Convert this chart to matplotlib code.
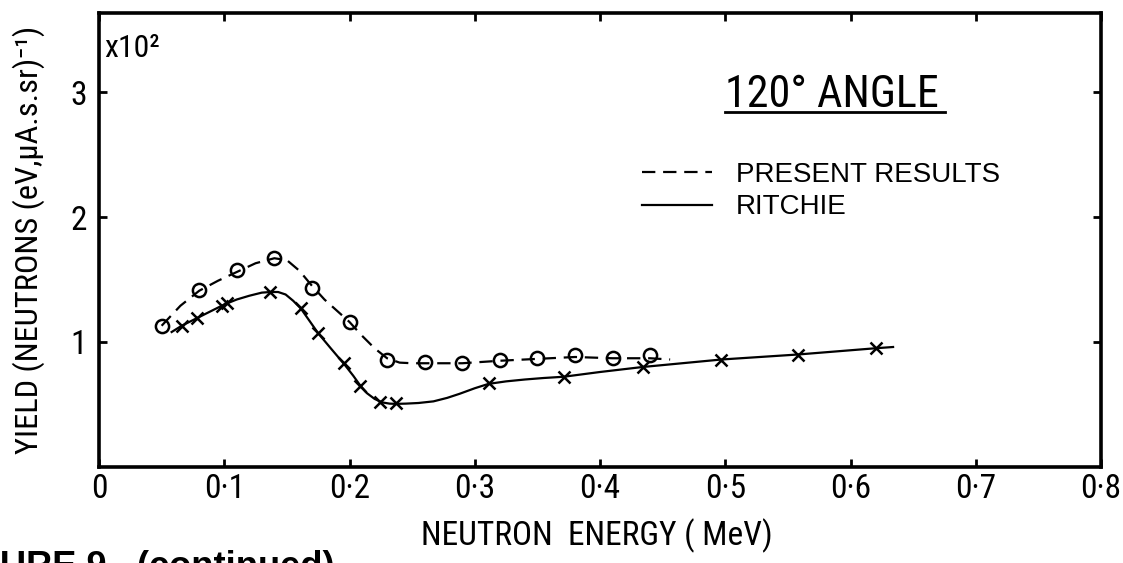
import matplotlib
matplotlib.use("Agg")
import matplotlib.pyplot as plt
from matplotlib.lines import Line2D
from matplotlib import font_manager as fm
from matplotlib.font_manager import FontProperties
from matplotlib.textpath import TextPath

# ---------------- data ----------------
energy_present = [0.05, 0.08, 0.11, 0.14, 0.17, 0.20, 0.23, 0.26, 0.29, 0.32, 0.35, 0.38, 0.41, 0.44]
yield_present = [1.13, 1.42, 1.58, 1.67, 1.43, 1.16, 0.86, 0.84, 0.83, 0.86, 0.87, 0.90, 0.87, 0.90]

# hand-drawn dashed curve through the present results
curve_present_x = [0.05, 0.065, 0.08, 0.095, 0.11, 0.125, 0.14, 0.15, 0.16, 0.17, 0.18, 0.19,
                   0.20, 0.21, 0.22, 0.23, 0.24, 0.25, 0.26, 0.29, 0.32, 0.35, 0.38, 0.41,
                   0.44, 0.456]
curve_present_y = [1.13, 1.29, 1.41, 1.49, 1.56, 1.63, 1.67, 1.655, 1.57, 1.45, 1.34, 1.25,
                   1.16, 1.05, 0.95, 0.87, 0.835, 0.83, 0.83, 0.83, 0.85, 0.865, 0.88, 0.87,
                   0.87, 0.86]

energy_ritchie = [0.066, 0.078, 0.098, 0.102, 0.1365, 0.161, 0.175, 0.196, 0.208, 0.224, 0.237,
                  0.311, 0.371, 0.434, 0.497, 0.558, 0.620]
yield_ritchie = [1.13, 1.19, 1.29, 1.31, 1.40, 1.27, 1.07, 0.83, 0.65, 0.52, 0.51,
                 0.67, 0.72, 0.80, 0.86, 0.90, 0.95]

# solid Ritchie curve
curve_ritchie_x = [0.058, 0.066, 0.078, 0.090, 0.100, 0.110, 0.120, 0.130, 0.137, 0.143, 0.149,
                   0.155, 0.161, 0.168, 0.175, 0.185, 0.196, 0.203, 0.208, 0.214, 0.220, 0.226,
                   0.232, 0.237, 0.245, 0.255, 0.267, 0.278, 0.288, 0.300, 0.311, 0.325, 0.340,
                   0.355, 0.371, 0.40, 0.434, 0.497, 0.558, 0.62, 0.634]
curve_ritchie_y = [1.08, 1.13, 1.19, 1.25, 1.30, 1.34, 1.37, 1.395, 1.40, 1.40, 1.38,
                   1.33, 1.27, 1.17, 1.07, 0.95, 0.82, 0.73, 0.66, 0.59, 0.545, 0.517,
                   0.507, 0.505, 0.507, 0.512, 0.525, 0.553, 0.586, 0.63, 0.665, 0.685, 0.70,
                   0.712, 0.722, 0.76, 0.80, 0.86, 0.90, 0.95, 0.96]

x_ticks = [0, 0.1, 0.2, 0.3, 0.4, 0.5, 0.6, 0.7, 0.8]
x_ticklabels = ["0", "0\u00b71", "0\u00b72", "0\u00b73", "0\u00b74", "0\u00b75", "0\u00b76", "0\u00b77", "0\u00b78"]
y_ticks = [1, 2, 3]
y_ticklabels = ["1", "2", "3"]

legend_labels = ["PRESENT RESULTS", "RITCHIE"]
title_text = "120\u00b0 ANGLE"
xlabel_text = "NEUTRON  ENERGY ( MeV)"
ylabel_text = "YIELD (NEUTRONS (eV,\u03bcA.s.sr)\u207b\u00b9)"
scale_text = "x10\u00b2"
caption_text = "URE 9.  (continued)"

# ---------------- fonts ----------------
entries = fm.fontManager.ttflist
names = {e.name for e in entries}
cond_kw = None
for cand in ["Liberation Sans Narrow", "Roboto Condensed", "Open Sans Condensed",
             "DejaVu Sans Condensed", "Noto Sans Condensed", "Arial Narrow"]:
    if cand in names:
        cond_kw = dict(family=[cand, "DejaVu Sans"])
        break
if cond_kw is None:
    for fam in ["Noto Sans", "DejaVu Sans", "Open Sans", "Roboto"]:
        if any(e.name == fam and e.stretch in ("condensed", "semi-condensed", 300, 400) for e in entries):
            cond_kw = dict(family=[fam, "DejaVu Sans"], stretch="condensed")
            break
if cond_kw is None:
    cond_kw = dict(family=["Liberation Sans", "DejaVu Sans"])

REG = ["Liberation Sans", "DejaVu Sans"]
plt.rcParams["font.family"] = cond_kw["family"]


def fp_cond(size=10, weight="normal"):
    return FontProperties(size=size, weight=weight, **cond_kw)


def ink(s, fp):
    e = TextPath((0, 0), s, size=100, prop=fp).get_extents()
    return e.width, e.height


def fit_size(s, fp, target_w_px, target_cap_px, cap_char="H", wmax=None):
    w100, _ = ink(s, fp)
    _, c100 = ink(cap_char, fp)
    sw = 100 * target_w_px * 0.72 / w100
    sh = 100 * target_cap_px * 0.72 / c100
    size = (sw * sh) ** 0.5
    if wmax is not None:
        size = min(size, sw * wmax)
    return size


W, H = 1123, 563
fig = plt.figure(figsize=(W / 100, H / 100), dpi=100)


def fx(px):
    return px / W


def fy(py):
    return 1 - py / H


left, right, top, bottom = 99, 1101, 13, 467
ax = fig.add_axes([fx(left), fy(bottom), fx(right) - fx(left), fy(top) - fy(bottom)])
ax.set_xlim(0, 0.8)
ax.set_ylim(0, (bottom - top) / 125.0)

lw_curve = 1.6
dashed_line, = ax.plot(curve_present_x, curve_present_y, color="black", lw=lw_curve,
                       linestyle=(0, (6, 3.5)))
solid_line, = ax.plot(curve_ritchie_x, curve_ritchie_y, color="black", lw=lw_curve)

ax.plot(energy_present, yield_present, linestyle="none", marker="o", markersize=9.5,
        markerfacecolor="none", markeredgecolor="black", markeredgewidth=1.8)
ax.plot(energy_ritchie, yield_ritchie, linestyle="none", marker="x", markersize=8,
        markeredgecolor="black", markeredgewidth=1.8)

for s in ax.spines.values():
    s.set_linewidth(2.6)
    s.set_color("black")

tick_size = fit_size("0\u00b78", fp_cond(), 38, 24, cap_char="0")
ax.set_xticks(x_ticks)
ax.set_xticklabels(x_ticklabels)
ax.set_yticks(y_ticks)
ax.set_yticklabels(y_ticklabels)
ax.tick_params(axis="both", direction="in", length=6, width=2, top=True, right=True)
ax.tick_params(axis="x", pad=4)
ax.tick_params(axis="y", pad=8.5)
for lbl in ax.get_xticklabels() + ax.get_yticklabels():
    lbl.set_fontproperties(fp_cond(tick_size))

# axis labels
xs = fit_size(xlabel_text, fp_cond(), 375, 22)
fig.text(fx(597), fy(545), xlabel_text, fontproperties=fp_cond(xs), ha="center", va="baseline")

ys = fit_size(ylabel_text, fp_cond(), 444, 22, wmax=1.0)
fig.text(fx(29), fy(240), ylabel_text, fontproperties=fp_cond(ys),
         rotation=90, ha="center", va="center")

ss = fit_size(scale_text, fp_cond(), 53, 23, cap_char="1")
fig.text(fx(104), fy(57), scale_text, fontproperties=fp_cond(ss), ha="left", va="baseline")

# title with underline
ts = fit_size(title_text, fp_cond(), 205, 32)
title = fig.text(fx(725), fy(107), title_text, fontproperties=fp_cond(ts), ha="left", va="baseline")

# legend
leg_fs = 20
leg_px = leg_fs * 100 / 72


def make_legend(spacing):
    return ax.legend([dashed_line, solid_line], legend_labels, frameon=False,
                     loc="center left", bbox_to_anchor=(fx(642), fy(191)),
                     bbox_transform=fig.transFigure, borderpad=0, borderaxespad=0,
                     handlelength=70 / leg_px, handletextpad=24 / leg_px, labelspacing=spacing,
                     prop=FontProperties(family=REG, size=leg_fs))


leg = make_legend(0.0)

# page caption fragment cut off at the bottom
cs = fit_size(caption_text, FontProperties(family=REG, weight="bold"), 330, 29, wmax=1.0)
fig.text(fx(0), fy(577), caption_text, fontproperties=FontProperties(family=REG, weight="bold", size=cs),
         ha="left", va="baseline")

# adjust legend row pitch and underline using measured extents
fig.canvas.draw()
r = fig.canvas.get_renderer()
texts = leg.get_texts()
b0 = texts[0].get_window_extent(r)
b1 = texts[1].get_window_extent(r)
pitch = abs(b0.y0 - b1.y0)
leg.remove()
leg = make_legend(max(0.0, (33 - pitch) / leg_px))
fig.canvas.draw()
tb = title.get_window_extent(r)
fig.add_artist(Line2D([fx(725), (tb.x1 + 6) / W], [fy(112), fy(112)], color="black", lw=2))

fig.savefig("out.png", dpi=100)
